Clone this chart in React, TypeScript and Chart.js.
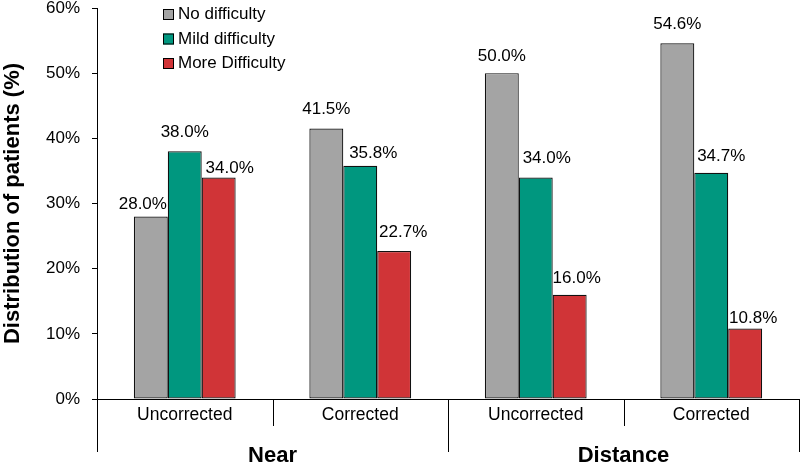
import React, { useEffect, useRef } from "react";
import { Chart, registerables } from "chart.js";

Chart.register(...registerables);

const categories = ["Uncorrected", "Corrected", "Uncorrected", "Corrected"];
const groups = ["Near", "Distance"];
const seriesNames = ["No difficulty", "Mild difficulty", "More Difficulty"];
const noDifficulty = [28.0, 41.5, 50.0, 54.6];
const mildDifficulty = [38.0, 35.8, 34.0, 34.7];
const moreDifficulty = [34.0, 22.7, 16.0, 10.8];
const yTicks = [0, 10, 20, 30, 40, 50, 60];

const colors = ["#a4a4a4", "#00977f", "#d03437"];
const FONT = "'Liberation Sans', Arial, Helvetica, sans-serif";

// small nudges so the value labels don't run into each other (px)
const labelShift = [
  [-8, 0, 0, 0],
  [0, 13, 11, 10],
  [11, 9, 7, 8]
];
const labelGap = [
  [8, 15, 12, 14],
  [14, 8, 14, 12],
  [4, 14, 12, 6]
];

const decorations = {
  id: "decorations",
  afterDraw(chart: any) {
    const ctx = chart.ctx;
    const x = chart.scales.x;
    const area = chart.chartArea;
    const n = categories.length;
    const half = (x.getPixelForValue(1) - x.getPixelForValue(0)) / 2;

    ctx.save();
    ctx.strokeStyle = "#000";
    ctx.fillStyle = "#000";
    ctx.lineWidth = 1;

    // category dividers below the axis
    for (let i = 0; i <= n; i++) {
      const px = i < n ? x.getPixelForValue(i) - half : x.getPixelForValue(n - 1) + half;
      const major = i % 2 === 0;
      const lx = Math.min(Math.round(px), chart.width - 1) + 0.5;
      ctx.beginPath();
      ctx.moveTo(lx, area.bottom);
      ctx.lineTo(lx, area.bottom + (major ? 53 : 27));
      ctx.stroke();
    }

    ctx.textAlign = "center";
    ctx.textBaseline = "middle";
    ctx.font = `17.5px ${FONT}`;
    categories.forEach((c, i) => ctx.fillText(c, x.getPixelForValue(i), area.bottom + 16));

    ctx.font = `bold 22px ${FONT}`;
    groups.forEach((g, j) => {
      const cx = (x.getPixelForValue(2 * j) + x.getPixelForValue(2 * j + 1)) / 2;
      ctx.fillText(g, cx, area.bottom + 57);
    });

    // legend, stacked inside the plot
    ctx.textAlign = "left";
    ctx.font = `17px ${FONT}`;
    chart.data.datasets.forEach((ds: any, i: number) => {
      const lx = area.left + 66;
      const ly = 9 + i * 24.5;
      ctx.fillStyle = ds.backgroundColor;
      ctx.fillRect(lx, ly, 11, 11);
      ctx.strokeRect(lx + 0.5, ly + 0.5, 10, 10);
      ctx.fillStyle = "#000";
      ctx.fillText(ds.label, lx + 15, ly + 5.5);
    });

    // value labels
    ctx.textAlign = "center";
    ctx.textBaseline = "alphabetic";
    chart.data.datasets.forEach((ds: any, i: number) => {
      const meta = chart.getDatasetMeta(i);
      meta.data.forEach((el: any, k: number) => {
        const v = ds.data[k] as number;
        ctx.fillText(v.toFixed(1) + "%", el.x + labelShift[i][k], el.y - labelGap[i][k]);
      });
    });

    ctx.restore();
  }
};

const App: React.FC = () => {
  const canvasRef = useRef<HTMLCanvasElement>(null);

  useEffect(() => {
    if (!canvasRef.current) return;
    const values = [noDifficulty, mildDifficulty, moreDifficulty];
    const chart = new Chart(canvasRef.current, {
      type: "bar",
      data: {
        labels: categories,
        datasets: values.map((d, i) => ({
          label: seriesNames[i],
          data: d,
          backgroundColor: colors[i],
          borderColor: "#111",
          borderWidth: 1.2,
          borderSkipped: false,
          categoryPercentage: 0.58,
          barPercentage: 1
        }))
      },
      options: {
        animation: false,
        responsive: true,
        maintainAspectRatio: false,
        layout: { padding: { top: 8, right: 1, left: 0, bottom: 0 } },
        plugins: {
          legend: { display: false },
          tooltip: { enabled: false }
        },
        scales: {
          x: {
            ticks: { display: false },
            grid: { display: true, drawOnChartArea: false, drawTicks: false, color: "transparent" },
            border: { color: "#000", width: 1 },
            afterFit: (s: any) => {
              s.height = 76;
            }
          },
          y: {
            min: yTicks[0],
            max: yTicks[yTicks.length - 1],
            ticks: {
              stepSize: yTicks[1] - yTicks[0],
              color: "#000",
              padding: 12,
              font: { size: 17, family: FONT },
              callback: (v: any) => v + "%"
            },
            grid: { drawOnChartArea: false, tickLength: 5, color: "#000" },
            border: { color: "#000", width: 1 },
            title: {
              display: true,
              text: "Distribution of patients (%)",
              color: "#000",
              font: { size: 22, weight: "bold", family: FONT },
              padding: { top: 0, bottom: 0 }
            },
            afterFit: (s: any) => {
              s.width = 97;
              s.paddingTop = 0;
              s.paddingBottom = 0;
            }
          }
        }
      },
      plugins: [decorations]
    });

    return () => {
      chart.destroy();
    };
  }, []);

  return (
    <div style={{ position: "fixed", left: 0, top: 0, width: 800, height: 475, background: "#fff" }}>
      <canvas ref={canvasRef} />
    </div>
  );
};

export default App;
